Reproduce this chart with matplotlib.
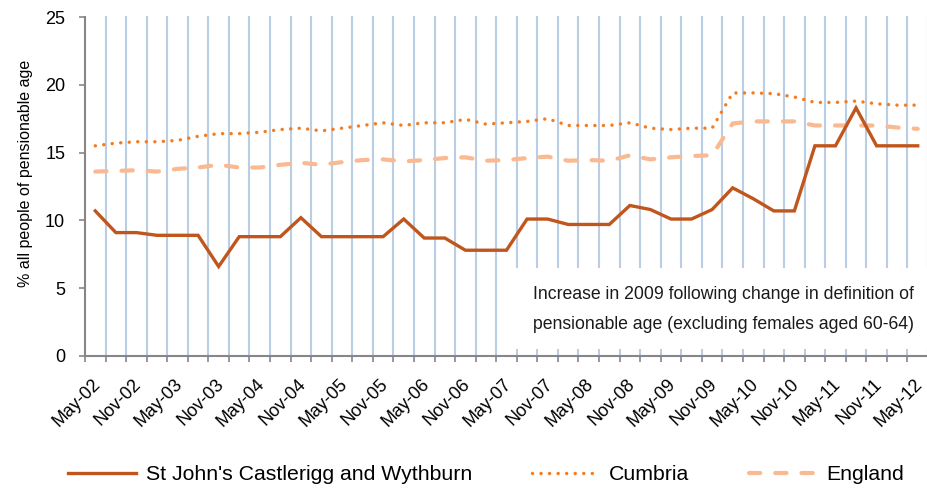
import matplotlib
matplotlib.use('Agg')
import matplotlib.pyplot as plt
import matplotlib.transforms as mtransforms
from matplotlib.patches import Rectangle
from matplotlib.lines import Line2D

plt.rcParams['font.family'] = ['Liberation Sans', 'DejaVu Sans']

categories = [
    "May-02", "Aug-02", "Nov-02", "Feb-03", "May-03", "Aug-03", "Nov-03", "Feb-04",
    "May-04", "Aug-04", "Nov-04", "Feb-05", "May-05", "Aug-05", "Nov-05", "Feb-06",
    "May-06", "Aug-06", "Nov-06", "Feb-07", "May-07", "Aug-07", "Nov-07", "Feb-08",
    "May-08", "Aug-08", "Nov-08", "Feb-09", "May-09", "Aug-09", "Nov-09", "Feb-10",
    "May-10", "Aug-10", "Nov-10", "Feb-11", "May-11", "Aug-11", "Nov-11", "Feb-12",
    "May-12",
]

st_johns = [10.7, 9.1, 9.1, 8.9, 8.9, 8.9, 6.6, 8.8, 8.8, 8.8,
            10.2, 8.8, 8.8, 8.8, 8.8, 10.1, 8.7, 8.7, 7.8, 7.8,
            7.8, 10.1, 10.1, 9.7, 9.7, 9.7, 11.1, 10.8, 10.1, 10.1,
            10.8, 12.4, 11.6, 10.7, 10.7, 15.5, 15.5, 18.3, 15.5, 15.5, 15.5]

cumbria = [15.5, 15.7, 15.8, 15.8, 15.9, 16.2, 16.4, 16.4, 16.5, 16.7,
           16.8, 16.6, 16.8, 17.0, 17.2, 17.0, 17.2, 17.2, 17.45, 17.1,
           17.2, 17.3, 17.5, 17.0, 17.0, 17.0, 17.2, 16.8, 16.7, 16.8,
           16.8, 19.4, 19.4, 19.35, 19.1, 18.7, 18.7, 18.8, 18.6, 18.5, 18.5]

england = [13.6, 13.65, 13.7, 13.6, 13.8, 13.9, 14.1, 13.9, 13.9, 14.1,
           14.25, 14.1, 14.3, 14.45, 14.5, 14.35, 14.45, 14.6, 14.65, 14.4,
           14.45, 14.6, 14.7, 14.4, 14.45, 14.4, 14.8, 14.5, 14.65, 14.75,
           14.8, 17.15, 17.3, 17.3, 17.3, 17.0, 17.0, 17.0, 17.0, 16.85, 16.75]

series_names = ["St John's Castlerigg and Wythburn", "Cumbria", "England"]
y_ticks = [0, 5, 10, 15, 20, 25]
note_lines = ["Increase in 2009 following change in definition of",
              "pensionable age (excluding females aged 60-64)"]

C_SOLID = '#C0561C'
C_DOT = '#F47D21'
C_DASH = '#FAB991'
C_GRID = '#B9CDE5'
C_AXIS = '#868686'

DOT_STYLE = (0, (0.01, 2.45))
DASH_STYLE = (0, (2.7, 3.6))

fig = plt.figure(figsize=(9.28, 4.88), dpi=100)
ax = fig.add_axes([85/928, 1-356/488, 843/928, 339/488])

n = len(categories)
x = list(range(n))
ax.set_xlim(-0.5, n - 0.5)
ax.set_ylim(0, 25)

# vertical gridlines at category boundaries
bounds = [i + 0.5 for i in range(n)]
for b in bounds:
    ax.axvline(b, color=C_GRID, lw=1.5, zorder=1, clip_on=False)

# white note box covering the gridlines
ax.add_patch(Rectangle((0.502, 0.02), 0.498, 0.24, transform=ax.transAxes,
                       facecolor='white', edgecolor='none', zorder=2))
ax.text(0.532, 0.18, note_lines[0], transform=ax.transAxes, fontsize=12.7,
        va='center', ha='left', color='#1a1a1a', zorder=3)
ax.text(0.532, 0.092, note_lines[1], transform=ax.transAxes, fontsize=12.7,
        va='center', ha='left', color='#1a1a1a', zorder=3)

ax.plot(x, st_johns, color=C_SOLID, lw=2.4, solid_joinstyle='miter', zorder=5)
ax.plot(x, cumbria, color=C_DOT, lw=2.5, linestyle=DOT_STYLE,
        dash_capstyle='round', zorder=5)
ax.plot(x, england, color=C_DASH, lw=3.0, linestyle=DASH_STYLE,
        dash_capstyle='round', zorder=4)

# spines
for s in ['top', 'right']:
    ax.spines[s].set_visible(False)
for s in ['left', 'bottom']:
    ax.spines[s].set_color(C_AXIS)
    ax.spines[s].set_linewidth(1.5)
    ax.spines[s].set_zorder(6)

# y axis
ax.set_yticks(y_ticks)
ax.set_yticklabels([str(v) for v in y_ticks], fontsize=13)
ax.tick_params(axis='y', direction='out', length=4.3, width=1.2, color=C_AXIS, pad=10)
ax.set_ylabel('% all people of pensionable age', fontsize=11.5)
ax.yaxis.set_label_coords(-0.0617, 0.54)

# x axis: tick marks at boundaries, labels every 2 categories
ax.set_xticks([-0.5] + bounds, minor=True)
ax.tick_params(axis='x', which='minor', direction='out', length=4.3, width=1.2, color=C_AXIS)
ax.set_xticks(x[::2])
ax.set_xticklabels(categories[::2], fontsize=13, rotation=45, ha='right',
                   rotation_mode='anchor')
ax.tick_params(axis='x', which='major', length=0, pad=14)
offset = mtransforms.ScaledTranslation(-3.5/100, 0, fig.dpi_scale_trans)
for lab in ax.get_xticklabels():
    lab.set_transform(lab.get_transform() + offset)

handles = [Line2D([], [], color=C_SOLID, lw=2.4),
           Line2D([], [], color=C_DOT, lw=2.5, linestyle=DOT_STYLE, dash_capstyle='round'),
           Line2D([], [], color=C_DASH, lw=3.0, linestyle=DASH_STYLE, dash_capstyle='round')]
fig.legend(handles, series_names, loc='center', bbox_to_anchor=(0.524, 0.027),
           ncol=3, frameon=False, fontsize=15.3, handlelength=3.2, handletextpad=0.45,
           columnspacing=2.8, borderpad=0, borderaxespad=0)

fig.savefig('out.png', dpi=100)
